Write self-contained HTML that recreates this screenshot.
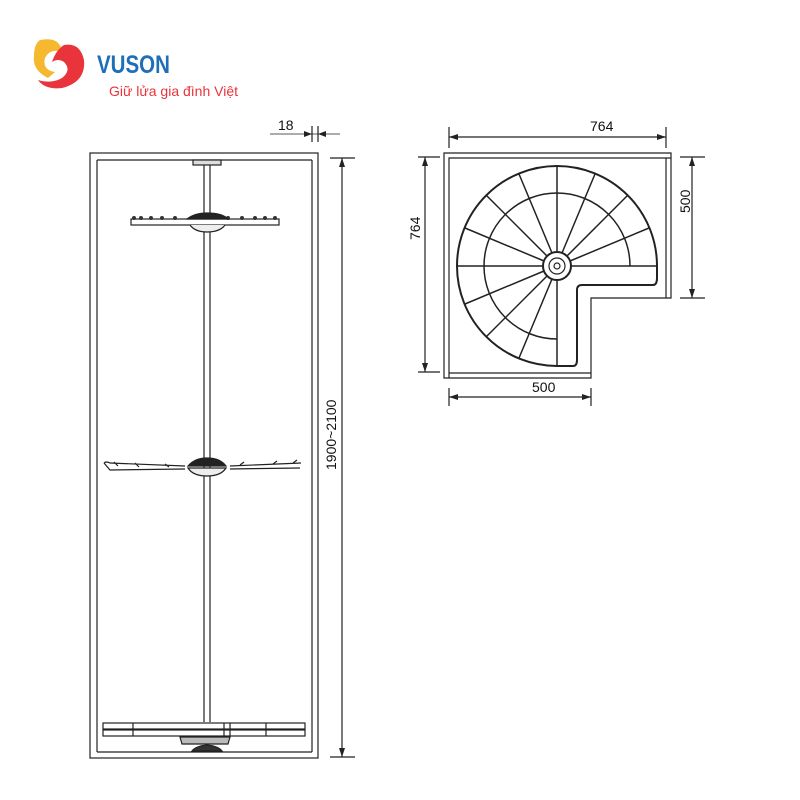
<!DOCTYPE html>
<html><head><meta charset="utf-8"><style>
body{margin:0;background:#fff;width:800px;height:800px;overflow:hidden}
svg{display:block}
text{font-family:"Liberation Sans",sans-serif}
</style></head><body>
<svg width="800" height="800" viewBox="0 0 800 800" xmlns="http://www.w3.org/2000/svg">
<!-- logo -->
<path d="M40 40 Q60 36 62 52 Q50 48 45 58 Q42 70 55 72 L48 78 Q32 70 34 56 Q34 44 40 40Z" fill="#f5b82e"/>
<path d="M64 45 Q80 42 84 60 Q86 82 62 88 Q45 90 38 80 Q52 84 62 78 Q72 70 64 62 Q58 58 52 62 Q56 50 64 45Z" fill="#e8343a"/>
<text transform="translate(97 73) scale(0.82 1)" font-size="25" font-weight="bold" fill="#1e6fb8">VUSON</text>
<text x="109" y="96" font-size="14" fill="#e8343a">Giữ lửa gia đình Việt</text>
<g stroke="#222" fill="none" stroke-width="1.2">
<!-- cabinet -->
<rect x="90" y="153" width="228" height="605"/>
<line x1="97" y1="160" x2="97" y2="752"/><line x1="312" y1="160" x2="312" y2="752"/>
<line x1="97" y1="160" x2="312" y2="160"/><line x1="97" y1="752" x2="312" y2="752"/>
<!-- pole -->
<line x1="204" y1="165" x2="204" y2="722"/><line x1="210" y1="165" x2="210" y2="722"/>
<rect x="193" y="160" width="28" height="5" fill="#ddd"/>
<!-- top shelf -->
<rect x="131" y="219" width="148" height="6" fill="#fff"/>
<g fill="#333" stroke="none">
<circle cx="134" cy="218" r="2"/><circle cx="141" cy="218" r="2"/><circle cx="151" cy="218" r="2"/><circle cx="162" cy="218" r="2"/><circle cx="175" cy="218" r="2"/>
<circle cx="228" cy="218" r="2"/><circle cx="242" cy="218" r="2"/><circle cx="255" cy="218" r="2"/><circle cx="265" cy="218" r="2"/><circle cx="275" cy="218" r="2"/>
</g>
<path d="M187 219 Q195 213 207 213 Q222 213 228 219Z" fill="#222"/>
<path d="M190 225 Q195 232 207 232 Q220 232 225 225" fill="#eee"/>
<!-- middle shelf -->
<path d="M104 463 Q106 461 110 463 L185 466 M104 463 L110 470 L185 469" />
<path d="M114 462 l4 4 M135 463 l4 4 M165 464 l4 3 M240 465 l4 -3 M273 464 l4 -3 M293 463 l4 -3"/>
<line x1="230" y1="466" x2="301" y2="463"/><line x1="230" y1="469" x2="300" y2="468"/>
<path d="M188 466 Q195 458 207 458 Q220 458 226 466Z" fill="#222"/>
<path d="M188 468 Q193 476 207 476 Q221 476 226 468Z" fill="#eee"/>
<!-- bottom base -->
<rect x="103" y="723" width="202" height="6" fill="#fff"/>
<rect x="103" y="730" width="202" height="6" fill="#fff"/>
<line x1="133" y1="723" x2="133" y2="736"/><line x1="266" y1="723" x2="266" y2="736"/>
<line x1="224" y1="723" x2="224" y2="736"/><line x1="230" y1="723" x2="230" y2="736"/>
<path d="M180 737 L230 737 L228 744 L182 744Z" fill="#bbb"/>
<path d="M192 751 Q196 746 207 745 Q218 746 222 751Z" fill="#333"/>
<!-- dims left -->
<line x1="270" y1="134" x2="340" y2="134" stroke-width="0.8"/>
<line x1="312" y1="126" x2="312" y2="142"/><line x1="318" y1="126" x2="318" y2="142"/>
<line x1="330" y1="158" x2="355" y2="158"/><line x1="330" y1="757" x2="355" y2="757"/>
<line x1="342" y1="158" x2="342" y2="757"/>
<!-- plan -->
<path d="M444 153 L671 153 L671 298 L591 298 L591 378 L444 378Z"/>
<path d="M449 378 L449 158 L671 158"/>
<path d="M666 158 L666 298"/><path d="M449 373 L591 373"/>
<path d="M657 266 A100 100 0 1 0 557 366 L573 366 Q577 366 577 360 L577 290 Q577 285 582 285 L653 285 Q657 285 657 278 Z" stroke-width="2"/>
<path d="M630 266 A73 73 0 1 0 557 339" stroke-width="1.5"/>
<circle cx="557" cy="266" r="14" stroke-width="2"/><circle cx="557" cy="266" r="8"/><circle cx="557" cy="266" r="3"/>
<g stroke-width="1.5">
<line x1="571" y1="266" x2="657" y2="266"/>
<line x1="570" y1="261" x2="649" y2="228"/>
<line x1="567" y1="256" x2="628" y2="195"/>
<line x1="562" y1="253" x2="595" y2="174"/>
<line x1="557" y1="252" x2="557" y2="166"/>
<line x1="552" y1="253" x2="519" y2="174"/>
<line x1="547" y1="256" x2="486" y2="195"/>
<line x1="544" y1="261" x2="465" y2="228"/>
<line x1="543" y1="266" x2="457" y2="266"/>
<line x1="544" y1="271" x2="465" y2="304"/>
<line x1="547" y1="276" x2="486" y2="337"/>
<line x1="552" y1="279" x2="519" y2="358"/>
<line x1="557" y1="280" x2="557" y2="366"/>
</g>
<!-- plan dims -->
<line x1="449" y1="137" x2="666" y2="137"/>
<line x1="449" y1="127" x2="449" y2="148"/><line x1="666" y1="127" x2="666" y2="148"/>
<line x1="418" y1="157" x2="440" y2="157"/><line x1="418" y1="372" x2="440" y2="372"/>
<line x1="425" y1="157" x2="425" y2="372"/>
<line x1="680" y1="157" x2="705" y2="157"/><line x1="680" y1="298" x2="705" y2="298"/>
<line x1="692" y1="157" x2="692" y2="298"/>
<line x1="449" y1="397" x2="591" y2="397"/>
<line x1="449" y1="388" x2="449" y2="406"/><line x1="591" y1="388" x2="591" y2="406"/>
</g>
<g fill="#222">
<path d="M312 134 l-8 -3 v6Z"/><path d="M318 134 l8 -3 v6Z"/>
<path d="M342 158 l-3 9 h6Z"/><path d="M342 757 l-3 -9 h6Z"/>
<path d="M449 137 l9 -3 v6Z"/><path d="M666 137 l-9 -3 v6Z"/>
<path d="M425 157 l-3 9 h6Z"/><path d="M425 372 l-3 -9 h6Z"/>
<path d="M692 157 l-3 9 h6Z"/><path d="M692 298 l-3 -9 h6Z"/>
<path d="M449 397 l9 -3 v6Z"/><path d="M591 397 l-9 -3 v6Z"/>
</g>
<g font-size="14" fill="#111">
<text x="278" y="130">18</text>
<text x="590" y="131">764</text>
<text x="532" y="392">500</text>
<text transform="translate(336 470) rotate(-90)">1900~2100</text>
<text transform="translate(420 240) rotate(-90)">764</text>
<text transform="translate(690 213) rotate(-90)">500</text>
</g>
</svg>
</body></html>
